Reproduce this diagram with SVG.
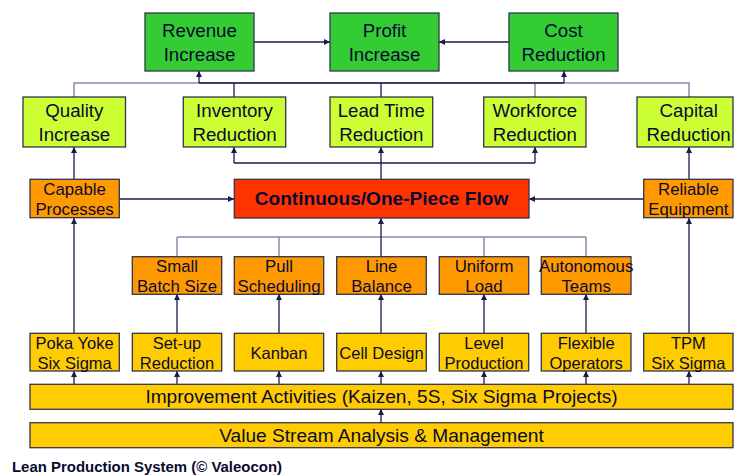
<svg xmlns="http://www.w3.org/2000/svg" width="734" height="476" viewBox="0 0 734 476">
<style>
text{font-family:"Liberation Sans",Arial,sans-serif;fill:#0a0a30;text-anchor:middle}
.box rect{stroke:#33334d;stroke-width:1.3}
.g rect{fill:#33cc33}
.l rect{fill:#ccff33}
.o rect{fill:#ff9900}
.y rect{fill:#ffcc00}
.f rect{fill:#ff3300}
.t18{font-size:18.7px}
.t19{font-size:19.1px}
.t17{font-size:16.8px}
.t16{font-size:16.5px}
.dk{stroke:#1a1a4d;stroke-width:1.3;fill:none}
.gr{stroke:#8a8aa6;stroke-width:1.5;fill:none}
.ar{marker-end:url(#ah)}
</style>
<defs>
<marker id="ah" viewBox="0 0 10 10" refX="10" refY="5" markerWidth="6" markerHeight="6" markerUnits="userSpaceOnUse" orient="auto">
<path d="M0,0 L10,5 L0,10 z" fill="#1a1a4d"/>
</marker>
</defs>
<rect width="734" height="476" fill="#ffffff"/>

<g id="connectors">
<line class="dk ar" x1="254" y1="42" x2="330" y2="42"/>
<line class="dk ar" x1="509" y1="42" x2="439" y2="42"/>
<polyline class="gr" points="74,97 74,83 689,83 689,97"/>
<line class="gr" x1="535" y1="83" x2="535" y2="97"/>
<line class="dk" x1="199" y1="83" x2="564" y2="83"/>
<line class="dk" x1="234" y1="83" x2="234" y2="97"/>
<line class="dk" x1="381" y1="83" x2="381" y2="97"/>
<line class="dk ar" x1="199" y1="83" x2="199" y2="71"/>
<line class="dk ar" x1="564" y1="83" x2="564" y2="71"/>
<line class="dk ar" x1="74" y1="179" x2="74" y2="147"/>
<line class="dk ar" x1="381" y1="179" x2="381" y2="147"/>
<line class="dk ar" x1="689" y1="179" x2="689" y2="147"/>
<line class="dk" x1="234" y1="163" x2="535" y2="163"/>
<line class="dk ar" x1="234" y1="163" x2="234" y2="147"/>
<line class="dk ar" x1="535" y1="163" x2="535" y2="147"/>
<line class="dk ar" x1="119" y1="199" x2="234" y2="199"/>
<line class="dk ar" x1="644" y1="199" x2="529" y2="199"/>
<line class="gr" x1="177" y1="237" x2="586" y2="237"/>
<line class="gr" x1="177" y1="237" x2="177" y2="257"/>
<line class="gr" x1="279" y1="237" x2="279" y2="257"/>
<line class="gr" x1="484" y1="237" x2="484" y2="257"/>
<line class="gr" x1="586" y1="237" x2="586" y2="257"/>
<line class="dk ar" x1="381" y1="257" x2="381" y2="218"/>
<line class="dk ar" x1="74" y1="333" x2="74" y2="218"/>
<line class="dk ar" x1="177" y1="333" x2="177" y2="294"/>
<line class="dk ar" x1="279" y1="333" x2="279" y2="294"/>
<line class="dk ar" x1="381" y1="333" x2="381" y2="294"/>
<line class="dk ar" x1="484" y1="333" x2="484" y2="294"/>
<line class="dk ar" x1="586" y1="333" x2="586" y2="294"/>
<line class="dk ar" x1="689" y1="333" x2="689" y2="218"/>
<line class="dk ar" x1="74" y1="384" x2="74" y2="371"/>
<line class="dk ar" x1="177" y1="384" x2="177" y2="371"/>
<line class="dk ar" x1="279" y1="384" x2="279" y2="371"/>
<line class="dk ar" x1="381" y1="384" x2="381" y2="371"/>
<line class="dk ar" x1="484" y1="384" x2="484" y2="371"/>
<line class="dk ar" x1="586" y1="384" x2="586" y2="371"/>
<line class="dk ar" x1="689" y1="384" x2="689" y2="371"/>
<line class="dk ar" x1="381" y1="423" x2="381" y2="409"/>
</g>

<g id="revenue" class="box g"><rect x="145" y="13" width="109" height="58"/><text class="t18" x="199.5" y="37">Revenue</text><text class="t18" x="199.5" y="61">Increase</text></g>
<g id="profit" class="box g"><rect x="330" y="13" width="109" height="58"/><text class="t18" x="384.5" y="37">Profit</text><text class="t18" x="384.5" y="61">Increase</text></g>
<g id="cost" class="box g"><rect x="509" y="13" width="109" height="58"/><text class="t18" x="563.5" y="37">Cost</text><text class="t18" x="563.5" y="61">Reduction</text></g>

<g id="quality" class="box l"><rect x="23" y="97" width="102.5" height="50"/><text class="t18" x="74.3" y="117">Quality</text><text class="t18" x="74.3" y="141">Increase</text></g>
<g id="inventory" class="box l"><rect x="183.3" y="97" width="102.4" height="50"/><text class="t18" x="234.5" y="117">Inventory</text><text class="t18" x="234.5" y="141">Reduction</text></g>
<g id="leadtime" class="box l"><rect x="330" y="97" width="102.7" height="50"/><text class="t18" x="381.3" y="117">Lead Time</text><text class="t18" x="381.3" y="141">Reduction</text></g>
<g id="workforce" class="box l"><rect x="483.7" y="97" width="102.3" height="50"/><text class="t18" x="534.8" y="117">Workforce</text><text class="t18" x="534.8" y="141">Reduction</text></g>
<g id="capital" class="box l"><rect x="637" y="97" width="96" height="50"/><text class="t18" x="688.7" y="117">Capital</text><text class="t18" x="688.7" y="141">Reduction</text></g>

<g id="capable" class="box o"><rect x="30" y="179.3" width="89.3" height="38.4"/><text class="t17" x="74.6" y="195.3">Capable</text><text class="t17" x="74.6" y="215">Processes</text></g>
<g id="flow" class="box f"><rect x="234.3" y="179.3" width="294.7" height="38.7"/><text x="381.5" y="205.3" style="font-size:19.1px;font-weight:bold">Continuous/One-Piece Flow</text></g>
<g id="reliable" class="box o"><rect x="643.7" y="179.3" width="89.3" height="38.4"/><text class="t17" x="688.4" y="195.3">Reliable</text><text class="t17" x="688.4" y="215">Equipment</text></g>

<g id="smallbatch" class="box o"><rect x="132.3" y="256.7" width="89.4" height="37.6"/><text class="t17" x="177" y="272.3">Small</text><text class="t17" x="177" y="291.7">Batch Size</text></g>
<g id="pull" class="box o"><rect x="234.3" y="256.7" width="89.4" height="37.6"/><text class="t17" x="279" y="272.3">Pull</text><text class="t17" x="279" y="291.7">Scheduling</text></g>
<g id="linebalance" class="box o"><rect x="336.7" y="256.7" width="89.6" height="37.6"/><text class="t17" x="381.5" y="272.3">Line</text><text class="t17" x="381.5" y="291.7">Balance</text></g>
<g id="uniform" class="box o"><rect x="439.3" y="256.7" width="89.4" height="37.6"/><text class="t17" x="484" y="272.3">Uniform</text><text class="t17" x="484" y="291.7">Load</text></g>
<g id="autonomous" class="box o"><rect x="541.3" y="256.7" width="89.7" height="37.6"/><text class="t17" x="586.2" y="272.3">Autonomous</text><text class="t17" x="586.2" y="291.7">Teams</text></g>

<g id="pokayoke" class="box y"><rect x="30" y="333.3" width="89.3" height="37.7"/><text class="t16" x="74.6" y="349.3">Poka Yoke</text><text class="t16" x="74.6" y="369">Six Sigma</text></g>
<g id="setup" class="box y"><rect x="132.3" y="333.3" width="89.4" height="37.7"/><text class="t16" x="177" y="349.3">Set-up</text><text class="t16" x="177" y="369">Reduction</text></g>
<g id="kanban" class="box y"><rect x="234.3" y="333.3" width="89.4" height="37.7"/><text class="t16" x="279" y="359.3">Kanban</text></g>
<g id="celldesign" class="box y"><rect x="336.7" y="333.3" width="89.6" height="37.7"/><text class="t16" x="381.5" y="359.3">Cell Design</text></g>
<g id="level" class="box y"><rect x="439.3" y="333.3" width="89.4" height="37.7"/><text class="t16" x="484" y="349.3">Level</text><text class="t16" x="484" y="369">Production</text></g>
<g id="flexible" class="box y"><rect x="541.3" y="333.3" width="89.7" height="37.7"/><text class="t16" x="586.2" y="349.3">Flexible</text><text class="t16" x="586.2" y="369">Operators</text></g>
<g id="tpm" class="box y"><rect x="643.7" y="333.3" width="89.3" height="37.7"/><text class="t16" x="688.4" y="349.3">TPM</text><text class="t16" x="688.4" y="369">Six Sigma</text></g>

<g id="improvement" class="box y"><rect x="30" y="384.3" width="703" height="25"/><text class="t19" x="381.5" y="403.3">Improvement Activities (Kaizen, 5S, Six Sigma Projects)</text></g>
<g id="valuestream" class="box y"><rect x="30" y="422.7" width="703" height="25"/><text class="t19" x="381.5" y="441.7">Value Stream Analysis &amp; Management</text></g>

<text x="12" y="471.5" textLength="270" lengthAdjust="spacingAndGlyphs" style="font-size:14px;font-weight:bold;text-anchor:start">Lean Production System (© Valeocon)</text>
</svg>
